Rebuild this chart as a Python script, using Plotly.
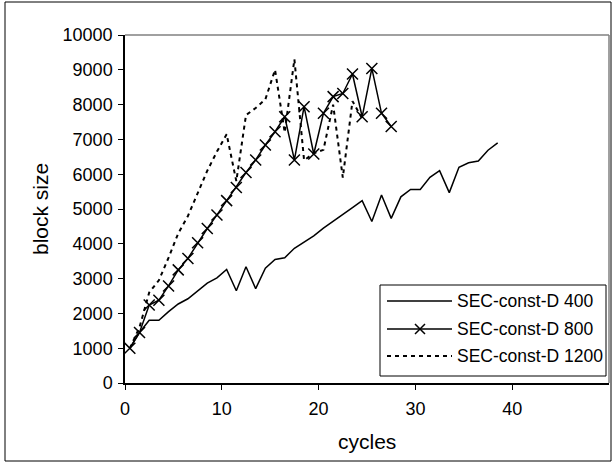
import plotly.graph_objects as go

# ---- data ----
x400 = [i + 0.5 for i in range(39)]
y400 = [1000, 1450, 1800, 1800, 2050, 2270, 2420, 2650, 2870, 3020,
        3260, 2650, 3340, 2710, 3300, 3550, 3600, 3870, 4060, 4230,
        4450, 4640, 4840, 5040, 5240, 4640, 5400, 4730, 5350, 5560,
        5560, 5910, 6100, 5470, 6200, 6330, 6380, 6690, 6900]

x800 = [i + 0.5 for i in range(28)]
y800 = [1000, 1450, 2240, 2380, 2790, 3250, 3580, 4030, 4440, 4830,
        5240, 5620, 6050, 6410, 6840, 7220, 7650, 6410, 7940, 6580,
        7750, 8230, 8320, 8880, 7650, 9040, 7750, 7370]

x1200 = [i + 0.5 for i in range(25)]
y1200 = [1000, 1600, 2600, 2950, 3600, 4300, 4800, 5450, 6100, 6650,
         7150, 5800, 7700, 7900, 8150, 9000, 7200, 9300, 6400, 6600,
         6700, 8000, 5900, 8100, 7600]

series_names = ["SEC-const-D 400", "SEC-const-D 800", "SEC-const-D 1200"]
x_ticks = [0, 10, 20, 30, 40]
x_labels = ["0", "10", "20", "30", "40"]
y_ticks = list(range(0, 10001, 1000))
y_labels = [str(v) for v in y_ticks]

# ---- layout geometry (pixels) ----
W, H = 614, 463
L, R, T, B = 125, 609, 35, 383   # plot area edges
FONT = "Liberation Sans, Arial, sans-serif"

def px(xp):
    return (xp - L) / (R - L)

def py(yp):
    return (B - yp) / (B - T)

fig = go.Figure()
fig.add_trace(go.Scatter(x=x400, y=y400, mode="lines", name=series_names[0],
                         line=dict(color="black", width=1.5)))
fig.add_trace(go.Scatter(x=x800, y=y800, mode="lines+markers", name=series_names[1],
                         line=dict(color="black", width=1.5),
                         marker=dict(symbol="x-thin", size=11,
                                     line=dict(color="black", width=1.5))))
fig.add_trace(go.Scatter(x=x1200, y=y1200, mode="lines", name=series_names[2],
                         line=dict(color="black", width=2, dash="4px,4px")))

shapes = []
# outer chart frame
shapes.append(dict(type="rect", xref="paper", yref="paper",
                   x0=px(5), x1=px(611), y0=py(2), y1=py(461),
                   line=dict(color="black", width=1), layer="below"))
# gray plot-area border (top & right)
shapes.append(dict(type="line", xref="paper", yref="paper",
                   x0=0, x1=1, y0=1, y1=1, line=dict(color="#808080", width=1.5)))
shapes.append(dict(type="line", xref="paper", yref="paper",
                   x0=1, x1=1, y0=0, y1=1, line=dict(color="#808080", width=1.5)))

# manual legend
lx0, lx1, ly0, ly1 = 380, 606, 285, 376
shapes.append(dict(type="rect", xref="paper", yref="paper",
                   x0=px(lx0), x1=px(lx1), y0=py(ly0), y1=py(ly1),
                   line=dict(color="black", width=1), fillcolor="white"))
rows = [301, 329, 356]
annotations = []
for i, (name, yy) in enumerate(zip(series_names, rows)):
    dash = "solid" if i < 2 else "4px,4px"
    shapes.append(dict(type="line", xref="paper", yref="paper",
                       x0=px(387), x1=px(452), y0=py(yy), y1=py(yy),
                       line=dict(color="black", width=1.5 if i < 2 else 2, dash=dash)))
    annotations.append(dict(text=name, xref="paper", yref="paper",
                            x=px(455), y=py(yy), xanchor="left", yanchor="middle",
                            showarrow=False, font=dict(family=FONT, size=17.5, color="black")))
# X marker in legend
cx, cy, r = 420, 329, 5
shapes.append(dict(type="path", xref="paper", yref="paper",
                   path=f"M {px(cx-r)} {py(cy-r)} L {px(cx+r)} {py(cy+r)} "
                        f"M {px(cx-r)} {py(cy+r)} L {px(cx+r)} {py(cy-r)}",
                   line=dict(color="black", width=1.5)))

# axis titles
annotations.append(dict(text="cycles", xref="paper", yref="paper",
                        x=0.5, y=py(441), xanchor="center", yanchor="middle",
                        showarrow=False, font=dict(family=FONT, size=21, color="black")))
annotations.append(dict(text="block size", xref="paper", yref="paper",
                        x=px(40), y=0.5, xanchor="center", yanchor="middle", textangle=-90,
                        showarrow=False, font=dict(family=FONT, size=21, color="black")))

fig.update_layout(
    width=W, height=H,
    margin=dict(l=L, r=W - R, t=T, b=H - B, pad=0),
    paper_bgcolor="white", plot_bgcolor="white",
    showlegend=False,
    font=dict(family=FONT, size=18, color="black"),
    shapes=shapes, annotations=annotations,
    xaxis=dict(range=[0, 50], tickvals=x_ticks, ticktext=x_labels,
               ticks="outside", ticklen=5, ticklabelstandoff=4,
               tickcolor="black", showline=True, linecolor="black", linewidth=1.5,
               showgrid=False, zeroline=False, fixedrange=True,
               tickfont=dict(family=FONT, size=18)),
    yaxis=dict(range=[0, 10000], tickvals=y_ticks, ticktext=y_labels,
               ticks="outside", ticklen=5, ticklabelstandoff=2,
               tickcolor="black", showline=True, linecolor="black", linewidth=1.5,
               showgrid=False, zeroline=False, fixedrange=True,
               tickfont=dict(family=FONT, size=18)),
)

fig.write_html("out.html")
